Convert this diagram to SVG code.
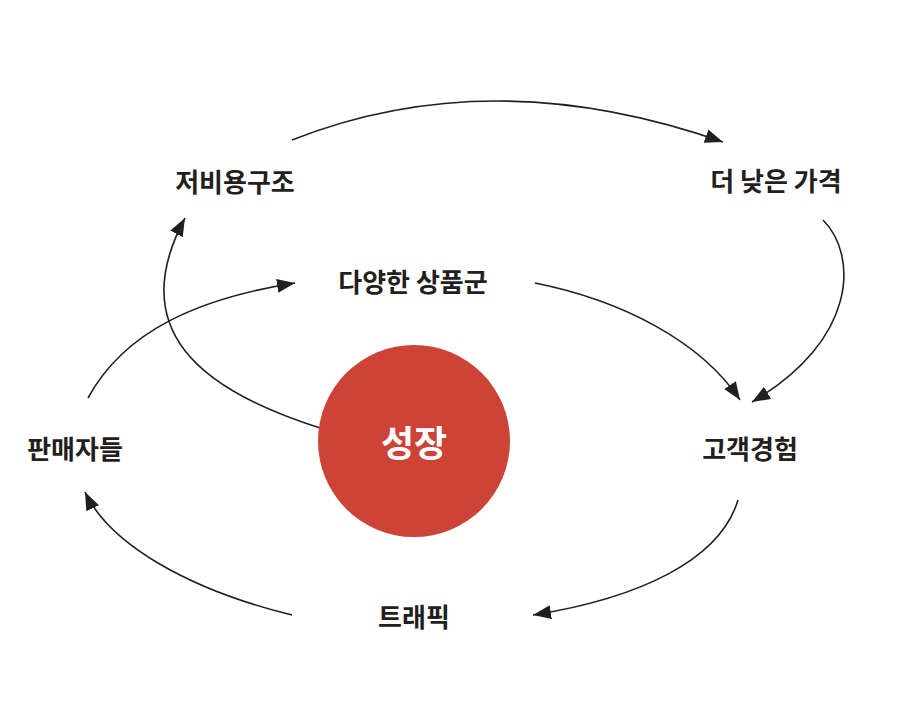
<svg xmlns="http://www.w3.org/2000/svg" width="900" height="722" viewBox="0 0 900 722">
  <style>
    .lbl { font-family: "Noto Sans CJK KR", "Noto Sans", sans-serif; font-weight: 700; font-size: 26px; fill: #231f20; text-anchor: middle; dominant-baseline: central; }
    .core { font-family: "Noto Sans CJK KR", "Noto Sans", sans-serif; font-weight: 700; font-size: 36px; fill: #ffffff; text-anchor: middle; dominant-baseline: central; }
    .conn { fill: none; stroke: #231f20; stroke-width: 1.6; }
  </style>
  <defs>
    <marker id="arrow" markerUnits="userSpaceOnUse" markerWidth="19" markerHeight="15" refX="18" refY="7" orient="auto" viewBox="0 0 19 15">
      <path d="M0,0 L18,7 L0,14 z" fill="#231f20"/>
    </marker>
  </defs>
  <rect width="900" height="722" fill="#ffffff"/>
  <g id="connectors">
    <path class="conn" d="M292,140 Q492,61 723,142" marker-end="url(#arrow)"/>
    <path class="conn" d="M823,220 C858,255 858,340 752,402" marker-end="url(#arrow)"/>
    <path class="conn" d="M535,283 C620,300 700,340 740,400" marker-end="url(#arrow)"/>
    <path class="conn" d="M738,500 C720,560 640,598 533,615" marker-end="url(#arrow)"/>
    <path class="conn" d="M292,615 C190,590 110,545 85,492" marker-end="url(#arrow)"/>
    <path class="conn" d="M88,398 C125,330 200,298 295,283" marker-end="url(#arrow)"/>
    <path class="conn" d="M320,428 C200,390 125,330 185,218" marker-end="url(#arrow)"/>
  </g>
  <g id="node-growth">
    <circle cx="414" cy="441" r="96" fill="#ce4337"/>
    <text class="core" x="414" y="441">성장</text>
  </g>
  <g id="node-lowcost"><text class="lbl" x="235" y="180">저비용구조</text></g>
  <g id="node-lowerprice"><text class="lbl" x="776" y="179">더 낮은 가격</text></g>
  <g id="node-selection"><text class="lbl" x="413" y="280">다양한 상품군</text></g>
  <g id="node-sellers"><text class="lbl" x="75" y="447">판매자들</text></g>
  <g id="node-cx"><text class="lbl" x="750" y="447">고객경험</text></g>
  <g id="node-traffic"><text class="lbl" x="414" y="615">트래픽</text></g>
</svg>
